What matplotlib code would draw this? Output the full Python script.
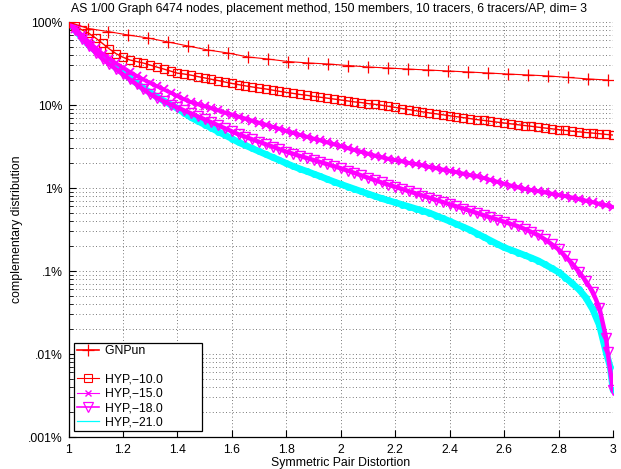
import matplotlib
matplotlib.use("Agg")
import matplotlib.pyplot as plt
from matplotlib.lines import Line2D
from matplotlib.ticker import FixedLocator, NullFormatter

plt.rcParams['font.family'] = ['Liberation Sans', 'DejaVu Sans']

# ---------------- data (percent) ----------------
gnp_x = [1.000, 1.072, 1.145, 1.219, 1.292, 1.366, 1.439, 1.512, 1.586, 1.659,
         1.733, 1.806, 1.880, 1.953, 2.027, 2.100, 2.173, 2.247, 2.320, 2.394,
         2.467, 2.541, 2.614, 2.688, 2.761, 2.835, 2.908, 2.982]
gnp_y = [100, 83.5, 76.8, 69.7, 64.2, 57.4, 51.4, 46.0, 42.3, 37.9,
         35.8, 33.4, 32.1, 31.2, 29.9, 28.7, 27.9, 27.1, 26.4, 25.7,
         25.0, 24.3, 23.6, 23.0, 22.4, 21.5, 20.6, 20.0]

hyp_x = [1.000, 1.025, 1.050, 1.075, 1.100, 1.125, 1.150, 1.175, 1.200, 1.225,
         1.250, 1.275, 1.300, 1.325, 1.350, 1.375, 1.400, 1.425, 1.450, 1.475,
         1.500, 1.525, 1.550, 1.575, 1.600, 1.625, 1.650, 1.675, 1.700, 1.725,
         1.750, 1.775, 1.800, 1.825, 1.850, 1.875, 1.900, 1.925, 1.950, 1.975,
         2.000, 2.025, 2.050, 2.075, 2.100, 2.125, 2.150, 2.175, 2.200, 2.225,
         2.250, 2.275, 2.300, 2.325, 2.350, 2.375, 2.400, 2.425, 2.450, 2.475,
         2.500, 2.525, 2.550, 2.575, 2.600, 2.625, 2.650, 2.675, 2.700, 2.725,
         2.750, 2.775, 2.800, 2.825, 2.850, 2.875, 2.900, 2.925, 2.950, 2.975,
         3.000]

hyp10_y = [100, 89.5, 80.1, 72.9, 64.0, 55.1, 47.4, 41.5, 37.6, 34.9,
           33.4, 32.0, 30.3, 28.6, 27.1, 25.6, 24.2, 23.6, 22.9, 22.0,
           21.2, 20.4, 19.7, 18.9, 18.2, 17.6, 17.0, 16.5, 16.0, 15.6,
           15.1, 14.6, 14.2, 13.8, 13.4, 13.1, 12.7, 12.4, 12.1, 11.8,
           11.5, 11.2, 10.9, 10.7, 10.4, 10.2, 9.94, 9.64, 9.35, 9.07,
           8.80, 8.54, 8.28, 8.03, 7.83, 7.62, 7.43, 7.23, 7.05, 6.86,
           6.67, 6.52, 6.36, 6.21, 6.07, 5.93, 5.79, 5.66, 5.54, 5.40,
           5.28, 5.17, 5.05, 4.94, 4.83, 4.75, 4.66, 4.59, 4.51, 4.42,
           4.35]

hyp15_y = [100, 83.3, 69.3, 57.8, 48.6, 41.4, 36.2, 31.7, 28.1, 25.1,
           22.4, 20.3, 18.4, 16.8, 15.4, 14.1, 12.8, 11.7, 10.8, 10.2,
           9.62, 9.10, 8.59, 8.12, 7.68, 7.25, 6.86, 6.47, 6.12, 5.79,
           5.46, 5.17, 4.88, 4.61, 4.37, 4.15, 3.94, 3.74, 3.54, 3.36,
           3.19, 3.02, 2.87, 2.73, 2.59, 2.46, 2.34, 2.25, 2.17, 2.09,
           2.01, 1.94, 1.87, 1.80, 1.73, 1.67, 1.61, 1.55, 1.49, 1.43,
           1.38, 1.32, 1.25, 1.19, 1.13, 1.07, 1.02, 0.978, 0.946, 0.915,
           0.883, 0.854, 0.826, 0.797, 0.768, 0.735, 0.705, 0.674, 0.645, 0.617,
           0.590]

hyp18_x = hyp_x[:80] + [2.980, 3.000]
hyp18_y = [100, 79.2, 62.6, 51.5, 42.7, 35.9, 31.1, 26.9, 23.4, 20.3,
           17.7, 15.5, 13.5, 12.2, 11.1, 10.1, 9.33, 8.59, 7.92, 7.29,
           6.71, 6.17, 5.68, 5.23, 4.81, 4.42, 4.13, 3.85, 3.60, 3.36,
           3.15, 2.93, 2.74, 2.58, 2.43, 2.30, 2.17, 2.05, 1.94, 1.83,
           1.73, 1.62, 1.52, 1.42, 1.33, 1.245, 1.165, 1.096, 1.034, 0.973,
           0.915, 0.861, 0.810, 0.764, 0.719, 0.676, 0.636, 0.600, 0.565, 0.531,
           0.500, 0.470, 0.442, 0.416, 0.392, 0.368, 0.347, 0.321, 0.295, 0.271,
           0.240, 0.210, 0.182, 0.150, 0.123, 0.098, 0.0758, 0.0565, 0.0360, 0.0155,
           0.0106, 0.00368]

hyp21_x = hyp_x[:80] + [2.990, 3.000]
hyp21_y = [100, 79.5, 64.0, 53.0, 44.5, 38.0, 32.6, 28.1, 24.4, 21.1,
           18.3, 15.9, 14.1, 12.45, 11.2, 10.1, 9.12, 8.01, 7.07, 6.40,
           5.81, 5.27, 4.77, 4.33, 3.93, 3.55, 3.26, 3.00, 2.76, 2.54,
           2.34, 2.16, 1.98, 1.83, 1.70, 1.59, 1.48, 1.38, 1.28, 1.19,
           1.11, 1.04, 0.973, 0.910, 0.851, 0.799, 0.748, 0.707, 0.669, 0.631,
           0.597, 0.563, 0.533, 0.502, 0.465, 0.430, 0.398, 0.367, 0.339, 0.312,
           0.283, 0.257, 0.233, 0.2115, 0.192, 0.179, 0.167, 0.155, 0.144, 0.133,
           0.120, 0.108, 0.0967, 0.0835, 0.0707, 0.0600, 0.0478, 0.0347, 0.0222, 0.0103,
           0.00697, 0.00368]

labels = ['GNPun', 'HYP,\u221210.0', 'HYP,\u221215.0', 'HYP,\u221218.0', 'HYP,\u221221.0']
y_ticks = [100, 10, 1, 0.1, 0.01, 0.001]
y_tick_labels = ['100%', '10%', '1%', '.1%', '.01%', '.001%']
x_ticks = [1, 1.2, 1.4, 1.6, 1.8, 2, 2.2, 2.4, 2.6, 2.8, 3]
x_tick_labels = ['1', '1.2', '1.4', '1.6', '1.8', '2', '2.2', '2.4', '2.6', '2.8', '3']

RED = (1, 0, 0)
MAG = (1, 0, 1)
CYAN = (0, 1, 1)
FS = 8.8

# ---------------- figure ----------------
fig = plt.figure(figsize=(6.21, 4.69), dpi=100)
ax = fig.add_axes([68.5 / 621, (469 - 437) / 469, (613 - 68.5) / 621, (437 - 22) / 469])

ax.set_yscale('log')
ax.set_xlim(1, 3)
ax.set_ylim(0.001, 100)

# grid
gkw = dict(color='0.3', linestyle=(0, (1, 3)), linewidth=0.6)
ax.yaxis.set_minor_locator(FixedLocator([m * 10.0 ** e for e in range(-3, 2) for m in range(2, 10)]))
ax.yaxis.set_minor_formatter(NullFormatter())
ax.grid(True, which='major', axis='both', **gkw)
ax.grid(True, which='minor', axis='y', **gkw)
ax.set_axisbelow(True)

ax.plot(hyp21_x, hyp21_y, color=CYAN, lw=4.8, marker='o', ms=4, mfc=CYAN, mec=CYAN, zorder=2.5,
        solid_joinstyle='round', solid_capstyle='round')
ax.plot(hyp_x, hyp10_y, color=RED, lw=1.0, marker='s', ms=5.3, mfc='none', mec=RED, mew=0.9, zorder=3)
ax.plot(hyp_x, hyp15_y, color=MAG, lw=2.8, marker='x', ms=5.5, mec=MAG, mew=1.3, zorder=3)
ax.plot(hyp18_x, hyp18_y, color=MAG, lw=3.2, marker='v', ms=6.5, mfc='none', mec=MAG, mew=1.0, zorder=3)
ax.plot(gnp_x, gnp_y, color=RED, lw=0.8, marker='+', ms=8, mew=0.9, zorder=5)

ax.set_xticks(x_ticks)
ax.set_xticklabels(x_tick_labels, fontsize=FS)
ax.set_yticks(y_ticks)
ax.set_yticklabels(y_tick_labels, fontsize=FS)
ax.tick_params(which='major', direction='in', length=5, width=0.8, pad=4)
ax.tick_params(which='minor', direction='in', length=3, width=0.6)
ax.tick_params(axis='x', pad=5)

for s in ('top', 'right'):
    ax.spines[s].set_visible(False)
for s in ('left', 'bottom'):
    ax.spines[s].set_linewidth(0.9)

ax.set_title('AS 1/00 Graph 6474 nodes, placement method, 150 members, 10 tracers, 6 tracers/AP, dim= 3',
             fontsize=FS, pad=7, x=(329 - 68.5) / 544.5)
ax.set_xlabel('Symmetric Pair Distortion', fontsize=FS, labelpad=1)
ax.set_ylabel('complementary distribution', fontsize=FS, labelpad=4)

# legend
handles = [
    Line2D([], [], color=RED, lw=1.2, marker='+', ms=8, mew=0.9),
    Line2D([], [], color='none'),
    Line2D([], [], color=RED, lw=0.8, marker='s', ms=5.5, mfc='none', mec=RED, mew=0.8),
    Line2D([], [], color=MAG, lw=0.8, marker='x', ms=5, mew=1.0),
    Line2D([], [], color=MAG, lw=1.2, marker='v', ms=7, mfc='none', mew=0.9),
    Line2D([], [], color=CYAN, lw=0.9),
]
pad = '\u00a0' * 11
leg_labels = [labels[0] + pad, ' '] + [l + pad for l in labels[1:]]
leg = ax.legend(handles, leg_labels, loc='lower left', bbox_to_anchor=(0.0101, 0.0145),
                borderaxespad=0, fontsize=FS, frameon=True, fancybox=False, framealpha=1,
                edgecolor='black', handlelength=1.8, handletextpad=0.5, labelspacing=0.18,
                borderpad=0.22, numpoints=1)
leg.get_frame().set_linewidth(0.9)
leg.set_zorder(10)

fig.savefig('out.png', dpi=100)
